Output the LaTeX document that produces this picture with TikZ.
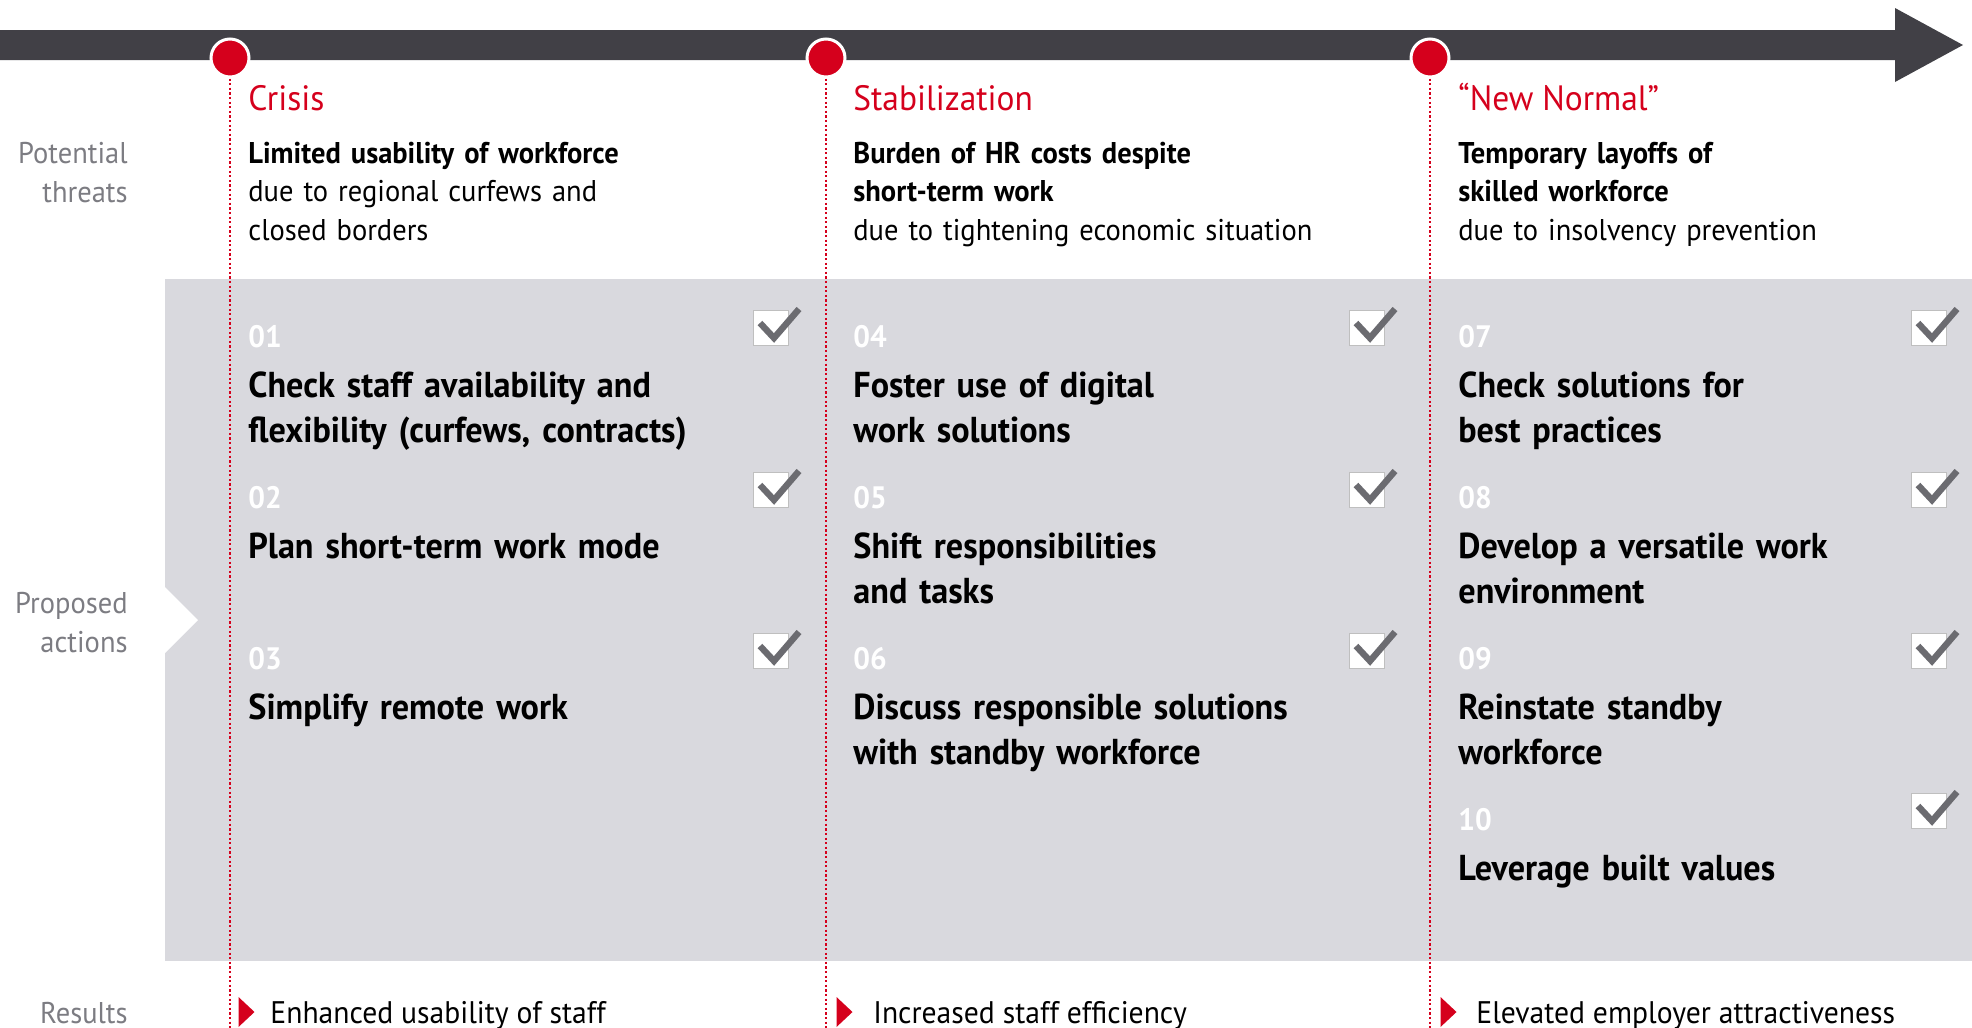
\documentclass[tikz,border=0pt]{standalone}
\usepackage{fontspec}
\setmainfont{PT Sans}[FakeStretch=0.95]
\usetikzlibrary{shapes.geometric}
\definecolor{barGray}{HTML}{414046}
\definecolor{phaseRed}{HTML}{D5001C}
\definecolor{panelGray}{HTML}{D9D9DE}
\definecolor{labelGray}{HTML}{7C7C82}
\definecolor{tickGray}{HTML}{6B6B70}
\tikzstyle{phase} = [circle, fill=phaseRed, draw=white, line width=1.5pt, minimum size=19pt, inner sep=0pt]
\tikzstyle{guide} = [phaseRed, line width=1.1pt, dash pattern=on 1.1pt off 1.2pt]
\tikzstyle{stage} = [anchor=base west, inner sep=0pt, text=phaseRed, font=\fontsize{17.6}{21}\selectfont]
\tikzstyle{threat} = [anchor=base west, inner sep=0pt, align=left, text width=300pt, font=\fontsize{15}{19.25}\selectfont]
\tikzstyle{rowlabel} = [anchor=base east, inner sep=0pt, align=right, text=labelGray, font=\fontsize{15}{19.5}\selectfont]
\tikzstyle{num} = [anchor=base west, inner sep=0pt, text=white, font=\bfseries\fontsize{15.5}{18}\selectfont]
\tikzstyle{action} = [anchor=base west, inner sep=0pt, align=left, text width=300pt, font=\bfseries\fontsize{18}{22.5}\selectfont]
\tikzstyle{checkbox} = [rectangle, fill=white, draw=black!25, line width=0.6pt, minimum size=17.5pt, inner sep=0pt]
\tikzstyle{tick} = [tickGray, line width=3.2pt]
\tikzstyle{result} = [anchor=base west, inner sep=0pt, font=\fontsize{15.6}{18}\selectfont]
\tikzstyle{marker} = [isosceles triangle, isosceles triangle stretches, fill=phaseRed, minimum height=8pt, minimum width=15pt, inner sep=0pt]
\newcommand{\tickmark}[1]{\draw [tick] ([shift={(-11,-5)}]#1.center) -- ([shift={(3,10)}]#1.center) -- ([shift={(28,-19)}]#1.center);}

\begin{document}
\begin{tikzpicture}[x=0.5pt, y=-0.5pt]
    \useasboundingbox (0,0) rectangle (1972,1028);
    % timeline bar and action panel
    \fill [barGray] (0,30) -- (1895,30) -- (1895,8) -- (1963,45) -- (1895,82) -- (1895,60) -- (0,60) -- cycle;
    \fill [panelGray] (165,279) rectangle (1972,961);
    \fill [white] (165,587) -- (198,620) -- (165,653) -- cycle;

    \node [phase] at (230,58) (circle1) {};
    \node [phase] at (826,58) (circle2) {};
    \node [phase] at (1430,58) (circle3) {};
    \coordinate (end1) at (230,1028);
    \coordinate (end2) at (826,1028);
    \coordinate (end3) at (1430,1028);
    \draw [guide] (circle1.south) -- (end1);
    \draw [guide] (circle2.south) -- (end2);
    \draw [guide] (circle3.south) -- (end3);

    \node [stage] at (248,110) (stage1) {Crisis};
    \node [stage] at (853,110) (stage2) {Stabilization};
    \node [stage] at (1458,110) (stage3) {``New Normal''};

    \node [rowlabel] at (128,202) (label1) {Potential\\threats};
    \node [rowlabel] at (128,652) (label2) {Proposed\\actions};
    \node [rowlabel] at (128,1023) (label3) {Results};

    \node [threat] at (248,163) (threat1) {\textbf{Limited usability of workforce}\\due to regional curfews and\\closed borders};
    \node [threat] at (853,163) (threat2) {\textbf{Burden of HR costs despite}\\\textbf{short-term work}\\due to tightening economic situation};
    \node [threat] at (1458,163) (threat3) {\textbf{Temporary layoffs of}\\\textbf{skilled workforce}\\due to insolvency prevention};

    % column 1
    \node [num] at (248,347) (num1) {01};
    \node [action] at (248,397) (act1) {Check staff availability and\\flexibility (curfews, contracts)};
    \node [num] at (248,508) (num2) {02};
    \node [action] at (248,558) (act2) {Plan short-term work mode};
    \node [num] at (248,669) (num3) {03};
    \node [action] at (248,719) (act3) {Simplify remote work};
    % column 2
    \node [num] at (853,347) (num4) {04};
    \node [action] at (853,397) (act4) {Foster use of digital\\work solutions};
    \node [num] at (853,508) (num5) {05};
    \node [action] at (853,558) (act5) {Shift responsibilities\\and tasks};
    \node [num] at (853,669) (num6) {06};
    \node [action] at (853,719) (act6) {Discuss responsible solutions\\with standby workforce};
    % column 3
    \node [num] at (1458,347) (num7) {07};
    \node [action] at (1458,397) (act7) {Check solutions for\\best practices};
    \node [num] at (1458,508) (num8) {08};
    \node [action] at (1458,558) (act8) {Develop a versatile work\\environment};
    \node [num] at (1458,669) (num9) {09};
    \node [action] at (1458,719) (act9) {Reinstate standby\\workforce};
    \node [num] at (1458,830) (num10) {10};
    \node [action] at (1458,880) (act10) {Leverage built values};

    \node [checkbox] at (771,328) (box1) {};
    \node [checkbox] at (771,490) (box2) {};
    \node [checkbox] at (771,651) (box3) {};
    \node [checkbox] at (1367,328) (box4) {};
    \node [checkbox] at (1367,490) (box5) {};
    \node [checkbox] at (1367,651) (box6) {};
    \node [checkbox] at (1929,328) (box7) {};
    \node [checkbox] at (1929,490) (box8) {};
    \node [checkbox] at (1929,651) (box9) {};
    \node [checkbox] at (1929,811) (box10) {};
    \tickmark{box1} \tickmark{box2} \tickmark{box3}
    \tickmark{box4} \tickmark{box5} \tickmark{box6}
    \tickmark{box7} \tickmark{box8} \tickmark{box9} \tickmark{box10}

    \node [marker] at (245,1012) (mark1) {};
    \node [marker] at (843,1012) (mark2) {};
    \node [marker] at (1447,1012) (mark3) {};
    \node [result] at (270,1023) (result1) {Enhanced usability of staff};
    \node [result] at (873,1023) (result2) {Increased staff efficiency};
    \node [result] at (1476,1023) (result3) {Elevated employer attractiveness};
\end{tikzpicture}
\end{document}
